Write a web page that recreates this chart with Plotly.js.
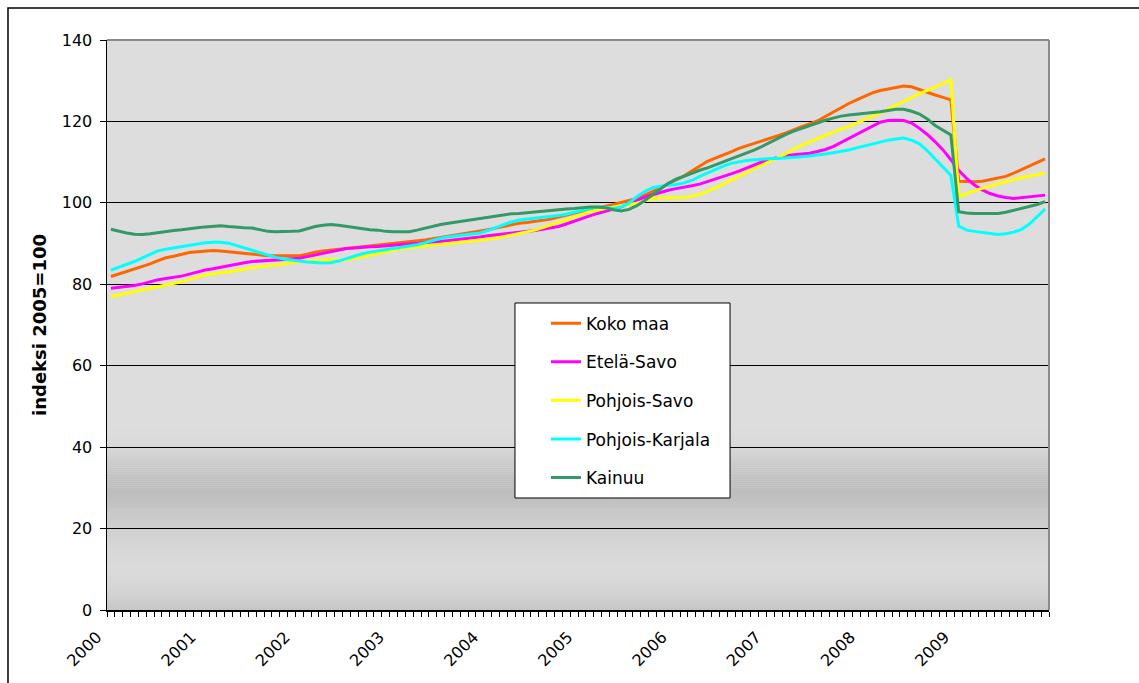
<!DOCTYPE html>
<html>
<head>
<meta charset="utf-8">
<script src="https://cdn.plot.ly/plotly-3.0.1.min.js"></script>
<style>
  html, body { margin: 0; padding: 0; background: #ffffff; }
  #chart { width: 1139px; height: 683px; }
</style>
</head>
<body>
<div id="chart"></div>
<script>
// ---- Data: monthly index values, Jan 2000 ... Dec 2009 (2005 = 100) ----
const years = [2000, 2001, 2002, 2003, 2004, 2005, 2006, 2007, 2008, 2009];

const seriesNames = ["Koko maa", "Etelä-Savo", "Pohjois-Savo", "Pohjois-Karjala", "Kainuu"];

const kokoMaa = [
  81.9, 82.5, 83.2, 83.8, 84.3, 85.0, 85.8, 86.5, 86.9, 87.3, 87.8, 88.0,
  88.2, 88.3, 88.2, 88.0, 87.7, 87.5, 87.4, 87.2, 87.0, 87.0, 87.0, 87.0,
  87.0, 87.4, 87.9, 88.2, 88.4, 88.6, 88.8, 89.0, 89.2, 89.4, 89.6, 89.8,
  90.0, 90.2, 90.4, 90.6, 90.9, 91.2, 91.5, 91.8, 92.1, 92.4, 92.7, 93.0,
  93.4, 93.8, 94.2, 94.6, 95.0, 95.2, 95.4, 95.7, 96.0, 96.5, 97.0, 97.5,
  97.9, 98.3, 98.7, 99.1, 99.6, 100.1, 100.6, 101.1, 101.9, 102.7, 103.7, 104.7,
  105.6, 106.6, 107.8, 109.0, 110.2, 111.0, 111.7, 112.5, 113.4, 114.0, 114.6, 115.2,
  115.9, 116.5, 117.2, 118.0, 118.7, 119.4, 120.1, 121.2, 122.3, 123.4, 124.4, 125.3,
  126.2, 127.0, 127.6, 128.0, 128.4, 128.7, 128.5, 127.8, 127.1, 126.5, 125.9, 125.3,
  105.3, 105.2, 105.2, 105.3, 105.7, 106.1, 106.5, 107.3, 108.2, 109.0, 109.9, 110.8
];

const etelaSavo = [
  79.0, 79.2, 79.4, 79.7, 80.1, 80.6, 81.1, 81.4, 81.7, 82.0, 82.5, 83.0,
  83.5, 83.8, 84.2, 84.5, 84.9, 85.3, 85.6, 85.7, 85.9, 86.0, 86.1, 86.3,
  86.4, 86.8, 87.2, 87.6, 88.0, 88.4, 88.8, 88.9, 89.1, 89.2, 89.3, 89.5,
  89.6, 89.8, 89.9, 90.1, 90.2, 90.4, 90.5, 90.7, 90.9, 91.1, 91.4, 91.6,
  91.9, 92.1, 92.3, 92.6, 92.8, 93.0, 93.2, 93.5, 93.8, 94.2, 94.8, 95.5,
  96.2, 96.8, 97.4, 97.9, 98.4, 99.0, 99.8, 100.6, 101.4, 102.0, 102.6, 103.1,
  103.5, 103.8, 104.2, 104.6, 105.2, 105.8, 106.5, 107.1, 107.8, 108.6, 109.4, 110.1,
  110.7, 111.2, 111.6, 111.8, 112.0, 112.2, 112.6, 113.1, 113.8, 114.8, 115.9, 117.0,
  117.9, 118.9, 119.8, 120.2, 120.3, 120.2, 119.6, 118.3, 116.8, 115.0, 113.0, 110.6,
  108.0, 106.0, 104.4, 103.2, 102.3, 101.7, 101.3, 101.1, 101.3, 101.4, 101.6, 101.9
];

const pohjoisSavo = [
  77.0, 77.4, 77.8, 78.2, 78.6, 79.0, 79.4, 79.8, 80.2, 80.6, 81.2, 81.8,
  82.3, 82.6, 82.8, 83.1, 83.4, 83.8, 84.1, 84.3, 84.5, 84.7, 85.0, 85.3,
  85.6, 85.8, 85.9, 86.0, 86.0, 85.9, 86.0, 86.4, 86.8, 87.2, 87.6, 88.0,
  88.4, 88.7, 89.0, 89.2, 89.4, 89.6, 89.8, 90.0, 90.2, 90.4, 90.6, 90.9,
  91.1, 91.3, 91.7, 92.1, 92.5, 92.9, 93.3, 93.9, 94.5, 95.1, 95.8, 96.5,
  97.2, 97.8, 98.3, 98.6, 98.9, 99.2, 99.5, 99.9, 100.5, 101.0, 101.2, 101.2,
  101.2, 101.3, 101.6, 102.1, 102.8, 103.6, 104.6, 105.6, 106.6, 107.6, 108.5, 109.3,
  110.2, 111.1, 112.1, 113.2, 114.2, 115.0, 115.8, 116.6, 117.4, 118.1, 118.8, 119.6,
  120.5, 121.3, 122.1, 123.0, 124.0, 125.0, 126.0, 126.8, 127.6, 128.4, 129.3, 130.2,
  101.5, 102.3, 103.0, 103.6, 104.1, 104.7, 105.2, 105.7, 106.2, 106.6, 106.9, 107.3
];

const pohjoisKarjala = [
  83.5, 84.2, 84.9, 85.6, 86.5, 87.4, 88.2, 88.6, 88.9, 89.2, 89.6, 89.9,
  90.2, 90.3, 90.3, 90.1, 89.5, 89.0, 88.4, 87.7, 87.1, 86.6, 86.2, 85.9,
  85.7, 85.5, 85.3, 85.2, 85.3, 85.7, 86.3, 86.9, 87.5, 87.9, 88.2, 88.5,
  88.8, 89.1, 89.4, 89.7, 90.2, 90.8, 91.3, 91.7, 91.9, 92.1, 92.3, 92.6,
  93.2, 93.9, 94.6, 95.3, 95.8, 96.0, 96.2, 96.4, 96.7, 96.9, 97.2, 97.6,
  98.1, 98.6, 99.0, 98.9, 98.6, 99.0, 100.0, 101.5, 102.8, 103.7, 104.1, 104.3,
  104.5, 104.9, 105.5, 106.5, 107.4, 108.2, 109.0, 109.7, 110.1, 110.4, 110.6, 110.8,
  110.9, 110.9, 111.0, 111.1, 111.3, 111.5, 111.7, 112.0, 112.3, 112.6, 113.0, 113.5,
  114.0, 114.5, 115.0, 115.4, 115.7, 115.9, 115.4, 114.5, 112.8, 110.8, 108.8, 106.8,
  94.3, 93.3, 93.0, 92.7, 92.4, 92.2, 92.4, 92.8, 93.5, 94.8, 96.6, 98.5
];

const kainuu = [
  93.5, 93.0, 92.6, 92.3, 92.2, 92.4, 92.7, 93.0, 93.2, 93.4, 93.7, 93.9,
  94.1, 94.3, 94.4, 94.2, 94.0, 93.9, 93.8, 93.4, 93.0, 92.9, 92.9, 93.0,
  93.1, 93.6, 94.2, 94.5, 94.7, 94.5, 94.2, 93.9, 93.6, 93.4, 93.3, 93.0,
  92.9, 92.9, 92.9, 93.3, 93.8, 94.3, 94.7, 95.0, 95.3, 95.6, 95.9, 96.2,
  96.5, 96.8, 97.1, 97.3, 97.4, 97.6, 97.8, 98.0, 98.2, 98.4, 98.5, 98.6,
  98.8, 99.0, 99.0, 98.8, 98.3, 98.0, 98.4, 99.3, 100.6, 102.0, 103.4, 104.8,
  105.8, 106.6, 107.3, 108.0, 108.6, 109.3, 110.0, 110.8, 111.5, 112.2, 113.0, 113.9,
  114.9, 115.9, 116.8, 117.6, 118.3, 119.0, 119.6, 120.3, 120.8, 121.3, 121.6, 121.8,
  121.9, 122.1, 122.4, 122.7, 123.0, 123.0, 122.5, 121.8, 120.6, 119.0, 117.8, 116.7,
  97.8, 97.5, 97.4, 97.4, 97.4, 97.4, 97.7, 98.2, 98.7, 99.1, 99.6, 100.3
];

const seriesValues = [kokoMaa, etelaSavo, pohjoisSavo, pohjoisKarjala, kainuu];
const seriesColors = ["#FF6600", "#FF00FF", "#FFFF00", "#00FFFF", "#339966"];

// ---- Build traces ----
const monthIndex = kokoMaa.map((_, i) => i);   // one category per month
const traces = seriesNames.map((name, k) => ({
  type: "scatter",
  mode: "lines",
  name: name,
  legendgroup: "g" + k,
  x: monthIndex,
  y: seriesValues[k],
  line: { color: seriesColors[k], width: 3 },
  hoverinfo: "x+y+name"
}));

// ---- Styling: plot-area gradient bands (Excel-like fill) ----
const gradStops = [[0,198],[5,212],[10,218],[14,216],[20,207],[24,198],[29,189],[32,192],[36,203],[40,216],[43,220],[46,221]];
function grayAt(v) {
  for (let i = 0; i < gradStops.length - 1; i++) {
    const a = gradStops[i], b = gradStops[i+1];
    if (v >= a[0] && v <= b[0]) {
      const t = (v - a[0]) / (b[0] - a[0]);
      return Math.round(a[1] + t * (b[1] - a[1]));
    }
  }
  return 221;
}
const shapes = [];
for (let v = 0; v < 46; v += 0.5) {
  const g = grayAt(v + 0.25);
  shapes.push({
    type: "rect", layer: "below", xref: "paper", yref: "y",
    x0: 0, x1: 1, y0: v, y1: v + 0.52,
    fillcolor: `rgb(${g},${g},${g})`, line: { width: 0 }
  });
}
// plot area top/right border (gray)
shapes.push({ type: "line", layer: "above", xref: "paper", yref: "paper", x0: 0, x1: 1, y0: 1, y1: 1, line: { color: "#8a8a8a", width: 2 } });
shapes.push({ type: "line", layer: "above", xref: "paper", yref: "paper", x0: 1, x1: 1, y0: 0, y1: 1, line: { color: "#8a8a8a", width: 2 } });
// legend box
shapes.push({ type: "rect", layer: "above", xref: "paper", yref: "paper",
  x0: 0.4331, x1: 0.6614, y0: 0.1965, y1: 0.5386,
  fillcolor: "#ffffff", line: { color: "#000000", width: 1 } });
// outer chart border (left + top visible)
shapes.push({ type: "rect", layer: "above", xref: "paper", yref: "paper",
  x0: -0.1051, x1: 1.2, y0: -0.3, y1: 1.0561,
  fillcolor: "rgba(0,0,0,0)", line: { color: "#000000", width: 1.5 } });

const font = "DejaVu Sans, Arial, Liberation Sans, sans-serif";

const layout = {
  width: 1139,
  height: 683,
  margin: { l: 107, r: 90, t: 40, b: 73, pad: 0 },
  paper_bgcolor: "#ffffff",
  plot_bgcolor: "#dddddd",
  font: { family: font, color: "#000000", size: 15 },
  showlegend: true,
  legend: {
    x: 0.466, y: 0.534, xanchor: "left", yanchor: "top",
    bgcolor: "rgba(0,0,0,0)", borderwidth: 0,
    font: { family: font, size: 17, color: "#000000" },
    tracegroupgap: 13.5,
    traceorder: "grouped"
  },
  xaxis: {
    range: [-0.5, 119.5],
    tickmode: "array",
    tickvals: years.map((y, i) => i * 12 - 0.5),
    ticktext: years.map(String),
    tickangle: -45,
    ticks: "",
    ticklabelstandoff: 10,
    ticklabelshift: -10,
    tickfont: { family: font, size: 16, color: "#000000" },
    showgrid: false,
    zeroline: false,
    showline: true,
    linecolor: "#000000",
    linewidth: 1.5,
    minor: { ticks: "outside", ticklen: 5, tickcolor: "#000000", tickwidth: 1, tick0: -0.5, dtick: 1, showgrid: false },
    fixedrange: true
  },
  yaxis: {
    range: [0, 140],
    tickmode: "linear",
    tick0: 0,
    dtick: 20,
    ticks: "outside",
    ticklen: 6,
    tickcolor: "#000000",
    tickfont: { family: font, size: 16, color: "#000000" },
    ticklabelstandoff: 4,
    showgrid: true,
    gridcolor: "#000000",
    gridwidth: 1,
    zeroline: false,
    showline: true,
    linecolor: "#000000",
    linewidth: 1.5,
    title: { text: "<b>indeksi 2005=100</b>", font: { family: font, size: 18, color: "#000000" }, standoff: 10 },
    automargin: false,
    fixedrange: true
  },
  shapes: shapes
};

Plotly.newPlot("chart", traces, layout, { displayModeBar: false, staticPlot: true });
</script>
</body>
</html>
